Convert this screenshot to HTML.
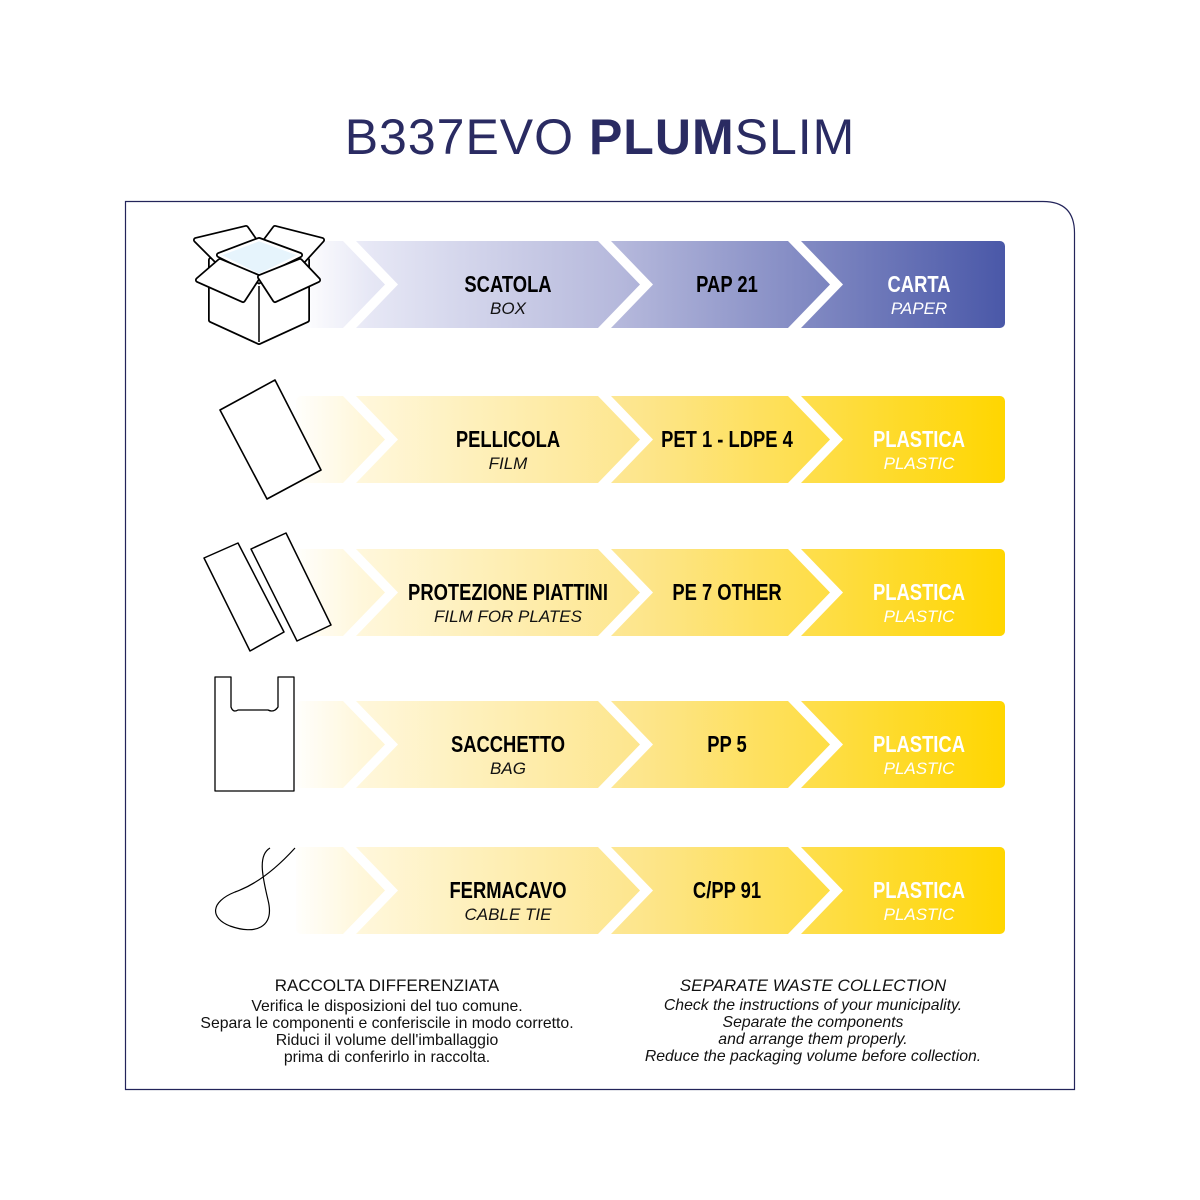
<!DOCTYPE html>
<html><head><meta charset="utf-8"><style>
html,body{margin:0;padding:0;background:#fff;}
svg{display:block;}
text{font-family:"Liberation Sans",sans-serif;}
.m{font-weight:bold;font-size:23px;text-anchor:middle;fill:#000;}
.s{font-style:italic;font-size:17px;text-anchor:middle;fill:#111;}
.w{fill:#fff;}
.f{font-size:15.8px;text-anchor:middle;fill:#111;}
</style></head><body>
<svg width="1200" height="1200" viewBox="0 0 1200 1200" xmlns="http://www.w3.org/2000/svg">
<defs>
<linearGradient id="gb" x1="300" x2="1005" y1="0" y2="0" gradientUnits="userSpaceOnUse">
<stop offset="0" stop-color="#ffffff"/><stop offset="0.1" stop-color="#e6e7f5"/><stop offset="0.45" stop-color="#b6b9dc"/><stop offset="1" stop-color="#4a58a8"/>
</linearGradient>
<linearGradient id="gy" x1="290" x2="1005" y1="0" y2="0" gradientUnits="userSpaceOnUse">
<stop offset="0" stop-color="#ffffff"/><stop offset="0.1" stop-color="#fff7db"/><stop offset="0.5" stop-color="#fde58a"/><stop offset="1" stop-color="#ffd600"/>
</linearGradient>
<g id="ch" fill="#fff">
<polygon points="343,0 356,0 398,43.5 356,87 343,87 385,43.5"/>
<polygon points="598,0 611,0 653,43.5 611,87 598,87 640,43.5"/>
<polygon points="788,0 801,0 843,43.5 801,87 788,87 830,43.5"/>
</g>
<path id="b1" d="M211 260 L259 286 L307 260 L307 320 L259 342 L211 320 Z"/>
<path id="b2" d="M196 240 L246 228 L260 248 L218 262 Z"/>
<path id="b3" d="M260 248 L275 228 L322 240 L302 262 Z"/>
<path id="b4" d="M219 255 L259 275 L300 255 L259 240 Z"/>
<path id="b5" d="M220 261 L258 277 L243 300 L198 280 Z"/>
<path id="b6" d="M300 261 L260 277 L275 300 L318 280 Z"/>
</defs>
<text x="600" y="154" text-anchor="middle" font-size="50" fill="#2a2b62" letter-spacing="1"><tspan>B337EVO </tspan><tspan font-weight="bold">PLUM</tspan><tspan>SLIM</tspan></text>
<path d="M125.5 201.5 H1043 Q1074.5 201.5 1074.5 233 V1089.5 H125.5 Z" fill="none" stroke="#23245a" stroke-width="1.2"/>

<rect x="296" y="241" width="709" height="87" rx="5" fill="url(#gb)"/><use href="#ch" transform="translate(0,241)"/>
<rect x="296" y="396" width="709" height="87" rx="5" fill="url(#gy)"/><use href="#ch" transform="translate(0,396)"/>
<rect x="296" y="549" width="709" height="87" rx="5" fill="url(#gy)"/><use href="#ch" transform="translate(0,549)"/>
<rect x="296" y="701" width="709" height="87" rx="5" fill="url(#gy)"/><use href="#ch" transform="translate(0,701)"/>
<rect x="296" y="847" width="709" height="87" rx="5" fill="url(#gy)"/><use href="#ch" transform="translate(0,847)"/>

<text class="m" transform="translate(508,292) scale(0.8,1)">SCATOLA</text><text class="s" x="508" y="314">BOX</text>
<text class="m" transform="translate(727,292) scale(0.8,1)">PAP 21</text>
<text class="m w" transform="translate(919,292) scale(0.8,1)">CARTA</text><text class="s w" x="919" y="314">PAPER</text>

<text class="m" transform="translate(508,447) scale(0.8,1)">PELLICOLA</text><text class="s" x="508" y="469">FILM</text>
<text class="m" transform="translate(727,447) scale(0.8,1)">PET 1 - LDPE 4</text>
<text class="m w" transform="translate(919,447) scale(0.8,1)">PLASTICA</text><text class="s w" x="919" y="469">PLASTIC</text>

<text class="m" transform="translate(508,600) scale(0.8,1)">PROTEZIONE PIATTINI</text><text class="s" x="508" y="622">FILM FOR PLATES</text>
<text class="m" transform="translate(727,600) scale(0.8,1)">PE 7 OTHER</text>
<text class="m w" transform="translate(919,600) scale(0.8,1)">PLASTICA</text><text class="s w" x="919" y="622">PLASTIC</text>

<text class="m" transform="translate(508,752) scale(0.8,1)">SACCHETTO</text><text class="s" x="508" y="774">BAG</text>
<text class="m" transform="translate(727,752) scale(0.8,1)">PP 5</text>
<text class="m w" transform="translate(919,752) scale(0.8,1)">PLASTICA</text><text class="s w" x="919" y="774">PLASTIC</text>

<text class="m" transform="translate(508,898) scale(0.8,1)">FERMACAVO</text><text class="s" x="508" y="920">CABLE TIE</text>
<text class="m" transform="translate(727,898) scale(0.8,1)">C/PP 91</text>
<text class="m w" transform="translate(919,898) scale(0.8,1)">PLASTICA</text><text class="s w" x="919" y="920">PLASTIC</text>

<!-- box icon -->
<g stroke-linejoin="round">
<use href="#b1" stroke="#000" stroke-width="6" fill="#fff"/><use href="#b1" stroke="#fff" stroke-width="2.5" fill="#fff"/>
<path d="M259 286 L259 342" stroke="#000" stroke-width="1.5"/>
<use href="#b2" stroke="#000" stroke-width="6" fill="#fff"/><use href="#b2" stroke="#fff" stroke-width="2.5" fill="#fff"/>
<use href="#b3" stroke="#000" stroke-width="6" fill="#fff"/><use href="#b3" stroke="#fff" stroke-width="2.5" fill="#fff"/>
<use href="#b4" stroke="#000" stroke-width="6" fill="#fff"/><use href="#b4" stroke="#fff" stroke-width="2.5" fill="#e6f4fc"/>
<use href="#b5" stroke="#000" stroke-width="6" fill="#fff"/><use href="#b5" stroke="#fff" stroke-width="2.5" fill="#fff"/>
<use href="#b6" stroke="#000" stroke-width="6" fill="#fff"/><use href="#b6" stroke="#fff" stroke-width="2.5" fill="#fff"/>
</g>
<g stroke="#000" fill="#fff" stroke-linejoin="round">
<path d="M220 410 L275 380 L321 470 L267 499 Z" stroke-width="1.6"/>
<path d="M204 558 L238 543 L284 632 L250 651 Z" stroke-width="1.5"/>
<path d="M251 549 L286 533 L331 625 L297 641 Z" stroke-width="1.5"/>
<path d="M215 677 H231 V707 Q233 713 238 710 H268 Q274 713 278 707 V677 H294 V791 H215 Z" stroke-width="1.3"/>
<path d="M295 848 C275 870 255 885 235 892 C210 902 210 918 230 926 C255 935 275 928 268 900 C262 875 258 855 270 848" fill="none" stroke-width="1.2"/>
</g>

<text x="387" y="991" text-anchor="middle" font-size="17" fill="#111">RACCOLTA DIFFERENZIATA</text>
<text class="f" x="387" y="1011">Verifica le disposizioni del tuo comune.</text>
<text class="f" x="387" y="1028">Separa le componenti e conferiscile in modo corretto.</text>
<text class="f" x="387" y="1045">Riduci il volume dell'imballaggio</text>
<text class="f" x="387" y="1062">prima di conferirlo in raccolta.</text>
<text x="813" y="991" text-anchor="middle" font-size="17" font-style="italic" fill="#111">SEPARATE WASTE COLLECTION</text>
<text class="f" x="813" y="1010" font-style="italic">Check the instructions of your municipality.</text>
<text class="f" x="813" y="1027" font-style="italic">Separate the components</text>
<text class="f" x="813" y="1044" font-style="italic">and arrange them properly.</text>
<text class="f" x="813" y="1061" font-style="italic">Reduce the packaging volume before collection.</text>
</svg>
</body></html>
